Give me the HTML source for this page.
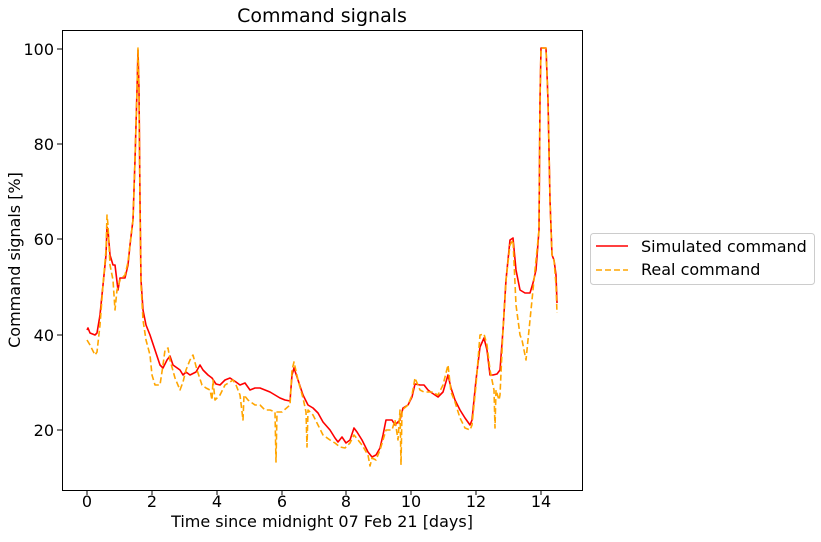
<!DOCTYPE html>
<html><head><meta charset="utf-8"><style>
body{margin:0;background:#fff;}
text{font-family:"DejaVu Sans","Liberation Sans",sans-serif;fill:#000;}
</style></head><body>
<svg width="821" height="537" viewBox="0 0 821 537" xmlns="http://www.w3.org/2000/svg">
<rect width="821" height="537" fill="#fff"/>
<text x="322" y="22" font-size="19" text-anchor="middle">Command signals</text>
<polyline fill="none" stroke="#ff0000" stroke-width="1.6" stroke-linejoin="round" points="87,330 88,328 90,333 95,335 97,333 100,315 103,285 106,255 107,227 108,230 110,255 113,265 115,265 118,290 120,278 125,278 128,265 130,245 133,220 135,160 137,90 138,50 139,90 140,200 141,280 143,310 146,325 150,335 155,350 160,365 163,368 167,360 170,356 173,365 180,370 183,375 186,372 190,375 196,372 200,365 203,370 208,375 212,378 216,384 220,385 225,380 230,378 233,380 236,382 240,385 245,383 250,390 255,388 260,388 265,390 270,392 275,395 280,398 285,400 290,401 292,375 294,368 298,380 303,395 308,405 313,408 318,413 323,422 330,430 335,438 338,442 342,437 346,443 350,440 354,428 357,432 362,440 368,452 372,457 376,455 380,448 383,435 386,420 392,420 395,425 400,420 403,408 408,405 412,397 415,384 420,385 424,385 428,390 432,393 438,397 443,392 448,375 451,388 455,400 460,410 465,418 470,425 472,420 476,380 480,347 484,338 487,350 490,375 493,375 497,374 500,370 503,330 506,280 510,240 513,238 516,270 520,290 525,293 530,293 533,283 536,270 539,230 540,100 541,48 546,48 548,100 550,200 552,255 554,260 556,275 557,303"/>
<polyline fill="none" stroke="#ffa500" stroke-width="1.6" stroke-dasharray="6,3" stroke-linejoin="round" points="87,340 90,345 95,355 97,352 100,325 103,285 106,250 107,215 108,225 110,265 113,280 115,310 117,290 120,280 125,275 128,262 130,245 133,220 135,160 137,90 138,48 139,90 140,210 141,285 143,320 146,340 150,355 152,375 155,385 160,385 163,365 165,350 168,348 170,360 175,378 180,390 183,382 186,370 190,360 193,355 197,370 202,385 206,388 210,390 212,400 213,380 215,400 220,395 225,385 230,382 233,380 236,385 240,395 243,420 244,395 248,400 255,405 260,405 265,410 270,410 275,412 276,462 277,412 282,412 290,405 292,370 294,362 298,380 303,398 306,412 307,447 308,410 313,415 318,425 323,435 330,440 335,443 340,447 345,448 350,443 354,435 358,440 362,445 368,455 370,466 372,458 376,460 380,450 383,440 386,430 392,430 395,420 398,440 400,410 401,465 402,410 408,405 412,395 415,378 420,390 424,392 428,392 432,392 438,395 443,385 448,365 451,392 455,402 460,418 465,428 470,430 472,425 476,385 480,335 484,334 487,345 490,370 494,390 495,428 496,390 499,400 500,395 503,330 506,280 510,245 513,240 516,305 520,335 522,340 526,360 530,320 533,290 536,260 539,230 540,100 541,48 546,48 548,100 550,200 552,255 554,260 556,285 557,313"/>
<rect x="62.5" y="30.5" width="520" height="460" fill="none" stroke="#000" stroke-width="1"/>
<g stroke="#000" stroke-width="1">
<line x1="87" y1="490" x2="87" y2="495"/><line x1="152" y1="490" x2="152" y2="495"/><line x1="217" y1="490" x2="217" y2="495"/><line x1="282" y1="490" x2="282" y2="495"/><line x1="346" y1="490" x2="346" y2="495"/><line x1="411" y1="490" x2="411" y2="495"/><line x1="476" y1="490" x2="476" y2="495"/><line x1="541" y1="490" x2="541" y2="495"/>
<line x1="57" y1="49" x2="62" y2="49"/><line x1="57" y1="144" x2="62" y2="144"/><line x1="57" y1="239" x2="62" y2="239"/><line x1="57" y1="335" x2="62" y2="335"/><line x1="57" y1="430" x2="62" y2="430"/>
</g>
<g font-size="16" text-anchor="middle">
<text x="87" y="507">0</text><text x="152" y="507">2</text><text x="217" y="507">4</text><text x="282" y="507">6</text><text x="346" y="507">8</text><text x="411" y="507">10</text><text x="476" y="507">12</text><text x="541" y="507">14</text>
</g>
<g font-size="16" text-anchor="end">
<text x="54" y="55">100</text><text x="54" y="150">80</text><text x="54" y="245">60</text><text x="54" y="341">40</text><text x="54" y="436">20</text>
</g>
<text x="322" y="527" font-size="16" text-anchor="middle">Time since midnight 07 Feb 21 [days]</text>
<text transform="translate(20,260) rotate(-90)" font-size="16" text-anchor="middle">Command signals [%]</text>
<rect x="590.5" y="233.5" width="224" height="51" rx="3" fill="#fff" stroke="#ccc"/>
<line x1="596" y1="246" x2="628" y2="246" stroke="#ff0000" stroke-width="1.6"/>
<line x1="596" y1="270" x2="628" y2="270" stroke="#ffa500" stroke-width="1.6" stroke-dasharray="6,3"/>
<text x="641" y="252" font-size="16">Simulated command</text>
<text x="641" y="275" font-size="16">Real command</text>
</svg>
</body></html>
